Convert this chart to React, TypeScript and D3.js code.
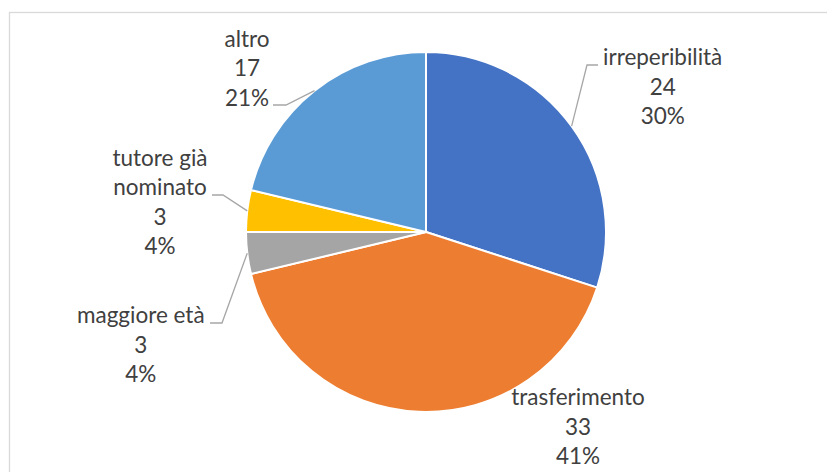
import React from "react";
import * as d3 from "d3";

const categories = ["irreperibilità", "trasferimento", "maggiore età", "tutore già nominato", "altro"];
const values = [24, 33, 3, 3, 17];
const percentLabels = ["30%", "41%", "4%", "4%", "21%"];
const labelLines = [["irreperibilità"], ["trasferimento"], ["maggiore età"], ["tutore già", "nominato"], ["altro"]];
const colors = ["#4472C4", "#ED7D31", "#A5A5A5", "#FFC000", "#5B9BD5"];

// layout of labels (positions only)
const labelLayout = [
  { cx: 662.7, y0: 65, leader: [[598, 65], [587, 65]] },
  { cx: 578, y0: 405, leader: null },
  { cx: 140.8, y0: 323.3, leader: [[210, 323], [222, 323]] },
  { cx: 160, y0: 165.5, leader: [[212, 195], [223, 195]] },
  { cx: 247, y0: 46.5, leader: [[273, 105], [286, 105]] },
];

const W = 827;
const H = 472;
const CX = 426;
const CY = 232;
const R = 180;
const LINE = 29.5;

export default function App() {
  const pie = d3.pie<number>().sort(null).value((d) => d)(values);
  const arc = d3.arc<d3.PieArcDatum<number>>().innerRadius(0).outerRadius(R);
  return (
    <svg width={W} height={H} style={{ position: "absolute", left: 0, top: 0, background: "#fff" }}>
      <rect x={9.5} y={12.5} width={W + 20} height={H + 20} fill="#fff" stroke="#d9d9d9" strokeWidth={1.3} />
      <g transform={`translate(${CX},${CY})`}>
        {pie.map((p, i) => (
          <path key={i} d={arc(p) || ""} fill={colors[i]} stroke="#fff" strokeWidth={2} strokeLinejoin="round" />
        ))}
      </g>
      {pie.map((p, i) => {
        const L = labelLayout[i];
        if (!L.leader) return null;
        const mid = (p.startAngle + p.endAngle) / 2;
        const ex = CX + R * Math.sin(mid);
        const ey = CY - R * Math.cos(mid);
        const pts = [...L.leader, [ex, ey]];
        return (
          <polyline key={"l" + i} points={pts.map((q) => q.join(",")).join(" ")} fill="none" stroke="#a6a6a6" strokeWidth={1.3} />
        );
      })}
      {pie.map((p, i) => {
        const L = labelLayout[i];
        const lines = [...labelLines[i], String(values[i]), percentLabels[i]];
        return (
          <text key={"t" + i} textAnchor="middle" fontFamily="Lato, 'Open Sans', sans-serif" fontSize={22.5} fill="#404040">
            {lines.map((s, j) => (
              <tspan key={j} x={L.cx} y={L.y0 + j * LINE}>
                {s}
              </tspan>
            ))}
          </text>
        );
      })}
    </svg>
  );
}
